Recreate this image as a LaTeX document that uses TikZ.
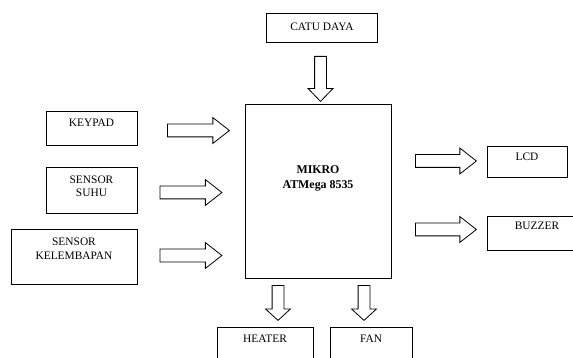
\documentclass[tikz,border=0pt]{standalone}
\usepackage{fontspec}
\setmainfont{Liberation Serif}
\usetikzlibrary{shapes.arrows}

\begin{document}
\begin{tikzpicture}[
    x=1pt, y=1pt,
    box/.style={rectangle, draw, line width=1pt, inner sep=2pt, align=center, font=\fontsize{11.4}{13.5}\selectfont},
    mcu/.style={box, font=\bfseries\fontsize{11.9}{15}\selectfont},
    blockarrow/.style={single arrow, draw, line width=0.8pt, fill=white, anchor=tail, single arrow head extend=6.5pt},
    harrow/.style={blockarrow, inner sep=6pt, minimum height=62pt, single arrow tip angle=76},
    varrow/.style={blockarrow, inner sep=5.5pt, shape border rotate=270}
]
    \useasboundingbox (0,0) rectangle (573,-358);
    \clip (0,0) rectangle (573,-358);

    % mikrokontroler
    \node[mcu, minimum width=146, minimum height=173, text depth=28] (mikro) at (318,-191.5) {MIKRO\\ATMega 8535};
    \node[box, minimum width=111, minimum height=29, text depth=4] (catu) at (322,-28.5) {CATU DAYA};

    % input
    \node[box, minimum width=91, minimum height=34, text depth=12] (keypad) at (91.5,-129) {KEYPAD};
    \node[box, minimum width=91, minimum height=46, text depth=10] (suhu) at (91.5,-191) {SENSOR\\SUHU};
    \node[box, minimum width=126, minimum height=54, text depth=17] (lembap) at (74,-257) {SENSOR\\KELEMBAPAN};

    % output
    \node[box, minimum width=80, minimum height=31, text depth=12] (lcd) at (527,-162.5) {LCD};
    \node[box, minimum width=100, minimum height=34, text depth=16] (buzzer) at (537,-234) {BUZZER};
    \node[box, minimum width=96, minimum height=40, text depth=17] (heater) at (265,-347) {HEATER};
    \node[box, minimum width=82, minimum height=40, text depth=17] (fan) at (371,-347) {FAN};

    % panah blok (diletakkan dari ekornya)
    \node[varrow, minimum height=45, single arrow tip angle=88] (catuarrow) at (320.5,-56) {};
    \node[harrow] (keypadarrow) at (167,-130.5) {};
    \node[harrow] (suhuarrow) at (159.5,-192.5) {};
    \node[harrow] (lembaparrow) at (159.5,-255.5) {};
    \node[harrow, minimum height=61] (lcdarrow) at (415,-161) {};
    \node[harrow, minimum height=61] (buzzerarrow) at (415,-229.5) {};
    \node[varrow, minimum height=35, single arrow tip angle=95] (heaterarrow) at (278,-285) {};
    \node[varrow, minimum height=35, single arrow tip angle=95] (fanarrow) at (364,-285) {};
\end{tikzpicture}
\end{document}
